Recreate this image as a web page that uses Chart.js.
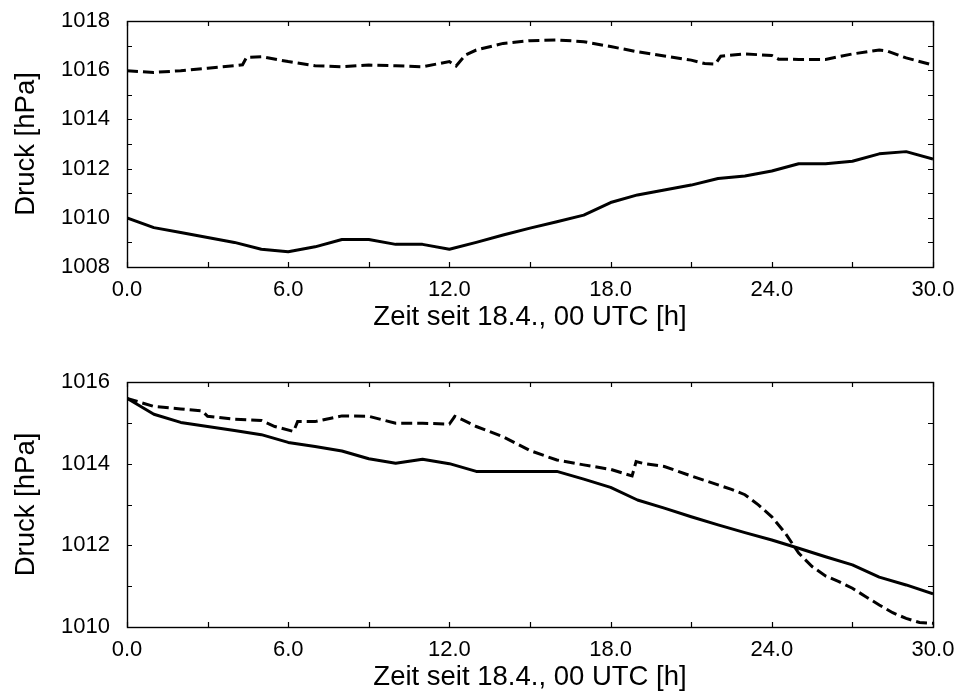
<!DOCTYPE html>
<html>
<head>
<meta charset="utf-8">
<script src="https://cdn.jsdelivr.net/npm/chart.js@4.4.1/dist/chart.umd.min.js"></script>
<style>
  html, body { margin: 0; padding: 0; background: #fff; }
  #wrap { position: relative; width: 957px; height: 692px; }
  canvas { position: absolute; left: 0; }
  #c1 { top: 0; }
  #c2 { top: 346px; }
</style>
</head>
<body>
<div id="wrap">
  <canvas id="c1" width="957" height="346"></canvas>
  <canvas id="c2" width="957" height="346"></canvas>
</div>
<script>
// ---------- data ----------
const xTitle = 'Zeit seit 18.4., 00 UTC [h]';
const yTitle = 'Druck [hPa]';

// top panel, solid line (hourly)
const topSolidHours = [0,1,2,3,4,5,6,7,8,9,10,11,12,13,14,15,16,17,18,19,20,21,22,23,24,25,26,27,28,29,30];
const topSolidValues = [1010.0,1009.6,1009.4,1009.2,1009.0,1008.72,1008.62,1008.82,1009.12,1009.12,1008.92,1008.92,1008.72,1009.0,1009.3,1009.58,1009.84,1010.11,1010.62,1010.93,1011.13,1011.33,1011.6,1011.7,1011.9,1012.2,1012.2,1012.3,1012.6,1012.69,1012.39];

// top panel, dashed line
const topDashHours = [0,1,2,3,4,4.3,4.45,5,6,7,8,9,10,11,12,12.25,12.6,13,14,15,16,17,18,19,20,21,21.5,21.9,22.1,23,24,24.25,25,26,27,28,28.3,29,30];
const topDashValues = [1015.98,1015.91,1015.98,1016.08,1016.18,1016.22,1016.52,1016.55,1016.35,1016.18,1016.14,1016.21,1016.18,1016.14,1016.35,1016.17,1016.62,1016.82,1017.09,1017.2,1017.23,1017.16,1016.96,1016.75,1016.58,1016.41,1016.27,1016.25,1016.57,1016.66,1016.6,1016.45,1016.44,1016.44,1016.66,1016.82,1016.78,1016.5,1016.21];

// bottom panel, solid line (hourly)
const botSolidHours = [0,1,2,3,4,5,6,7,8,9,10,11,12,13,14,15,16,17,18,19,20,21,22,23,24,25,26,27,28,29,30];
const botSolidValues = [1015.6,1015.21,1015.01,1014.91,1014.81,1014.71,1014.52,1014.42,1014.31,1014.12,1014.01,1014.11,1014.0,1013.81,1013.81,1013.81,1013.81,1013.62,1013.42,1013.11,1012.91,1012.7,1012.5,1012.31,1012.13,1011.93,1011.72,1011.52,1011.22,1011.03,1010.81];

// bottom panel, dashed line
const botDashHours = [0,1,2,2.8,3.0,4,5,5.5,6.2,6.35,7,8,9,10,11,12,12.2,12.5,13,14,15,16,17,18,18.8,18.95,19.2,20,21,22,22.5,23,23.5,24,24.5,25,25.5,26,26.5,27,27.5,28,28.5,29,29.5,30];
const botDashValues = [1015.6,1015.4,1015.34,1015.29,1015.16,1015.09,1015.06,1014.91,1014.79,1015.03,1015.03,1015.17,1015.16,1014.99,1014.99,1014.97,1015.16,1015.07,1014.91,1014.66,1014.32,1014.09,1013.97,1013.86,1013.7,1014.05,1014.01,1013.93,1013.7,1013.48,1013.37,1013.24,1012.99,1012.7,1012.3,1011.81,1011.48,1011.25,1011.11,1010.95,1010.74,1010.54,1010.35,1010.21,1010.11,1010.09];

const xMin = 0, xMax = 30, xStep = 3, xLabelEvery = 6;
const topYMin = 1008, topYMax = 1018;
const botYMin = 1010, botYMax = 1016;
const yStep = 1, yLabelEvery = 2;

// ---------- helpers ----------
const FONT = "'Liberation Sans', Arial, Helvetica, sans-serif";
const toPts = (xs, ys) => xs.map((x, i) => ({ x: x, y: ys[i] }));

const frame = {
  id: 'frame',
  afterDraw(chart) {
    const { ctx, chartArea: a, scales } = chart;
    const L = 5;
    ctx.save();
    ctx.strokeStyle = '#000';
    ctx.lineWidth = 1.2;
    ctx.beginPath();
    scales.x.ticks.forEach(t => {
      const px = Math.round(scales.x.getPixelForValue(t.value)) + 0.5;
      ctx.moveTo(px, a.bottom); ctx.lineTo(px, a.bottom - L);
      ctx.moveTo(px, a.top); ctx.lineTo(px, a.top + L);
    });
    scales.y.ticks.forEach(t => {
      const py = Math.round(scales.y.getPixelForValue(t.value)) + 0.5;
      ctx.moveTo(a.left, py); ctx.lineTo(a.left + L, py);
      ctx.moveTo(a.right, py); ctx.lineTo(a.right - L, py);
    });
    ctx.stroke();
    ctx.lineWidth = 1.4;
    ctx.strokeRect(Math.round(a.left) + 0.5, Math.round(a.top) + 0.5,
                   Math.round(a.right - a.left), Math.round(a.bottom - a.top));
    ctx.restore();
  }
};

function makeChart(id, solidPts, dashPts, yMin, yMax, padTop, xAxisHeight, xTitlePadBottom) {
  return new Chart(document.getElementById(id), {
    type: 'line',
    data: {
      datasets: [
        { data: solidPts, borderColor: '#000', borderWidth: 3, pointRadius: 0, tension: 0, fill: false, borderJoinStyle: 'round' },
        { data: dashPts, borderColor: '#000', borderWidth: 3, borderDash: [11, 5], pointRadius: 0, tension: 0, fill: false }
      ]
    },
    options: {
      responsive: false,
      animation: false,
      devicePixelRatio: 1,
      layout: { padding: { left: 0, right: 24, top: padTop, bottom: 0 } },
      plugins: { legend: { display: false }, tooltip: { enabled: false } },
      scales: {
        x: {
          type: 'linear', min: xMin, max: xMax,
          grid: { display: false, drawTicks: false },
          border: { display: false },
          ticks: {
            stepSize: xStep, autoSkip: false, maxRotation: 0, padding: 10,
            color: '#000', font: { family: FONT, size: 22 },
            callback: v => (v % xLabelEvery === 0 ? v.toFixed(1) : '')
          },
          title: { display: true, text: xTitle, color: '#000', font: { family: FONT, size: 27.5, lineHeight: 1 }, padding: { top: 0, bottom: xTitlePadBottom } },
          afterFit(s) { s.height = xAxisHeight; s.paddingLeft = 0; s.paddingRight = 0; }
        },
        y: {
          min: yMin, max: yMax,
          grid: { display: false, drawTicks: false },
          border: { display: false },
          ticks: {
            stepSize: yStep, autoSkip: false, padding: 17,
            color: '#000', font: { family: FONT, size: 22 },
            callback: v => (v % yLabelEvery === 0 ? String(v) : '')
          },
          title: { display: true, text: yTitle, color: '#000', font: { family: FONT, size: 27.5, lineHeight: 1 }, padding: { top: 13, bottom: 0 } },
          afterFit(s) { s.width = 127; s.paddingTop = 0; s.paddingBottom = 0; }
        }
      }
    },
    plugins: [frame]
  });
}

makeChart('c1', toPts(topSolidHours, topSolidValues), toPts(topDashHours, topDashValues), topYMin, topYMax, 21, 79, 15);
makeChart('c2', toPts(botSolidHours, botSolidValues), toPts(botDashHours, botDashValues), botYMin, botYMax, 36, 65, 1);
</script>
</body>
</html>
